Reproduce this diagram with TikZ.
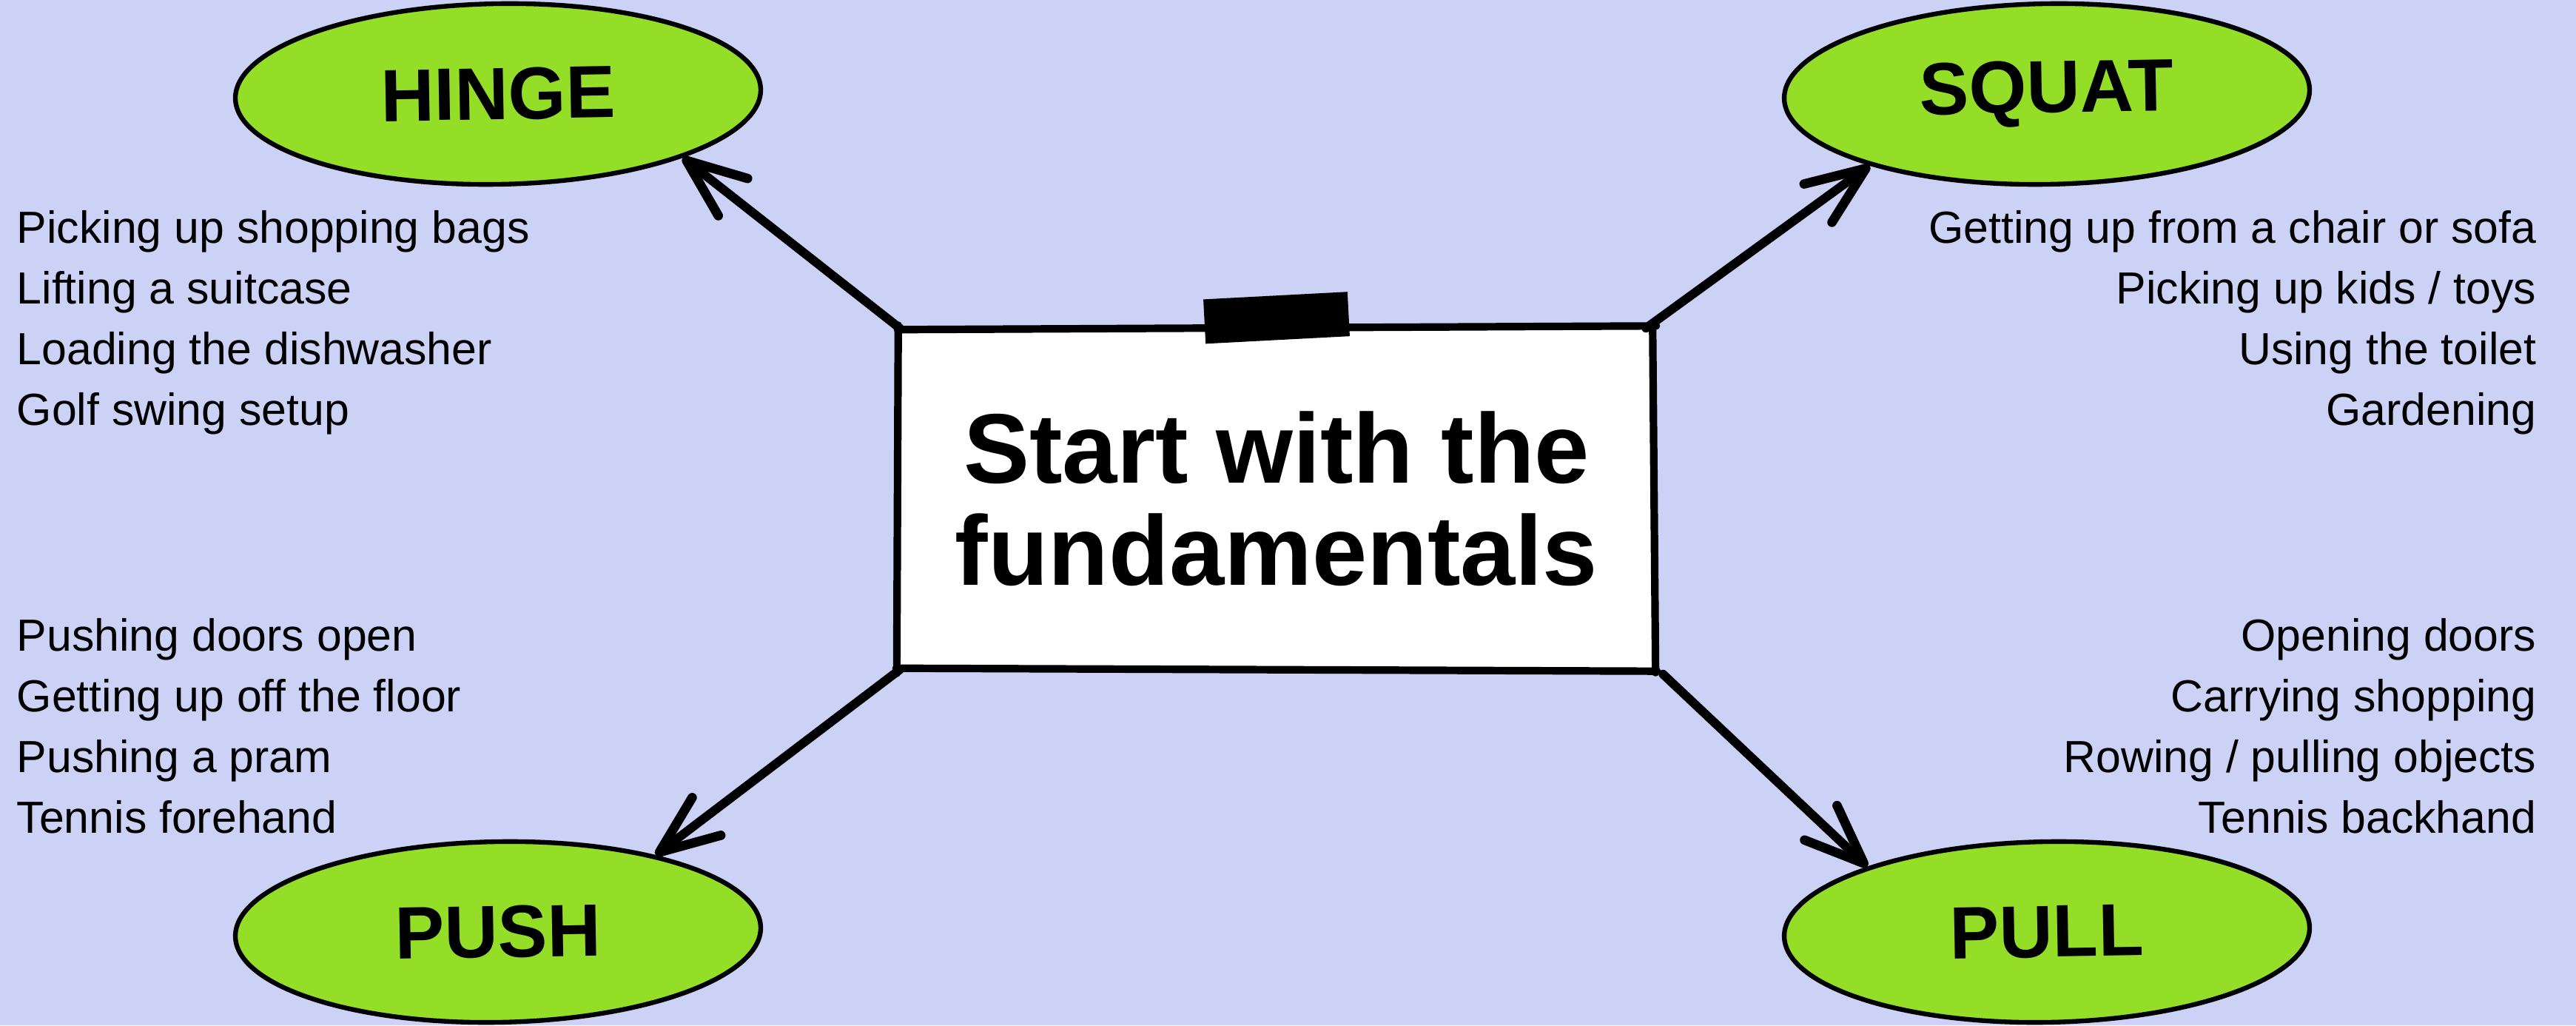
\documentclass[tikz,border=0pt]{standalone}
\usepackage{fontspec}
\setmainfont{Liberation Sans}
\usepackage{tikz}
\usetikzlibrary{matrix,shapes.geometric,arrows.meta,positioning}
\definecolor{bgblue}{RGB}{204,210,245}
\definecolor{limegreen}{RGB}{148,222,40}
\tikzset{
	move/.style={ellipse,draw,line width=1.8pt,fill=limegreen,minimum width=7.1cm,minimum height=2.44cm,inner sep=0pt,rotate=1,font=\bfseries\fontsize{28.5}{30}\selectfont},
	card/.style={fill=white,minimum width=10.17cm,minimum height=4.6cm,inner sep=0pt,align=center,font=\bfseries\fontsize{38}{39.2}\selectfont},
	boxline/.style={line width=2.9pt,line cap=round},
	tape/.style={fill=black,minimum width=1.95cm,minimum height=0.6cm,inner sep=0pt,rotate=3},
	sketcharrow/.style={line width=3.4pt,line cap=round,-{Straight Barb[length=8mm,width=6.4mm,round,line width=3.6pt]}},
	examples/.style={matrix of nodes,inner sep=0pt,row sep=0.24cm,
		nodes={inner sep=0pt,text height=0.45cm,text depth=0.13cm,font=\fontsize{17.3}{20}\selectfont}},
}
\begin{document}
\begin{tikzpicture}
	\path[use as bounding box,fill=bgblue] (0,0) rectangle (34.81,13.85);

	\node[move] (hinge) at (6.73,12.58) {HINGE};
	\node[move] (squat) at (27.66,12.58) {SQUAT};
	\node[move] (push) at (6.73,1.26) {PUSH};
	\node[move] (pull) at (27.66,1.26) {PULL};

	\node[card] (box) at (17.25,7.11) {Start with the\\fundamentals};
	\draw[boxline] ([shift={(-0.03,-0.02)}]box.north west) -- ([shift={(0.04,0.03)}]box.north east);
	\draw[boxline] ([shift={(-0.02,0.04)}]box.north west) -- ([shift={(-0.04,-0.05)}]box.south west);
	\draw[boxline] ([shift={(-0.05,0.02)}]box.south west) -- ([shift={(0.05,-0.02)}]box.south east);
	\draw[boxline] ([shift={(-0.01,0.05)}]box.north east) -- ([shift={(0.03,-0.04)}]box.south east);
	\node[tape] (tape) at ([yshift=0.14cm]box.north) {};

	\matrix[examples,anchor=north west,nodes={anchor=west}] (hingelist) at (0.22,11.02)
	{
	Picking up shopping bags\\
	Lifting a suitcase\\
	Loading the dishwasher\\
	Golf swing setup\\
	};
	\matrix[examples,anchor=north east,nodes={anchor=east}] (squatlist) at (34.28,11.02)
	{
	Getting up from a chair or sofa\\
	Picking up kids / toys\\
	Using the toilet\\
	Gardening\\
	};
	\matrix[examples,anchor=north west,nodes={anchor=west}] (pushlist) at (0.22,5.51)
	{
	Pushing doors open\\
	Getting up off the floor\\
	Pushing a pram\\
	Tennis forehand\\
	};
	\matrix[examples,anchor=north east,nodes={anchor=east}] (pulllist) at (34.28,5.51)
	{
	Opening doors\\
	Carrying shopping\\
	Rowing / pulling objects\\
	Tennis backhand\\
	};

	\draw[sketcharrow] (box.north west) -- (hinge.-20);
	\draw[sketcharrow] ([xshift=-0.1cm]box.north east) -- (squat.201);
	\draw[sketcharrow] (box.south west) -- (push.25);
	\draw[sketcharrow] ([shift={(0.13,-0.06)}]box.south east) -- (pull.159);
\end{tikzpicture}
\end{document}
